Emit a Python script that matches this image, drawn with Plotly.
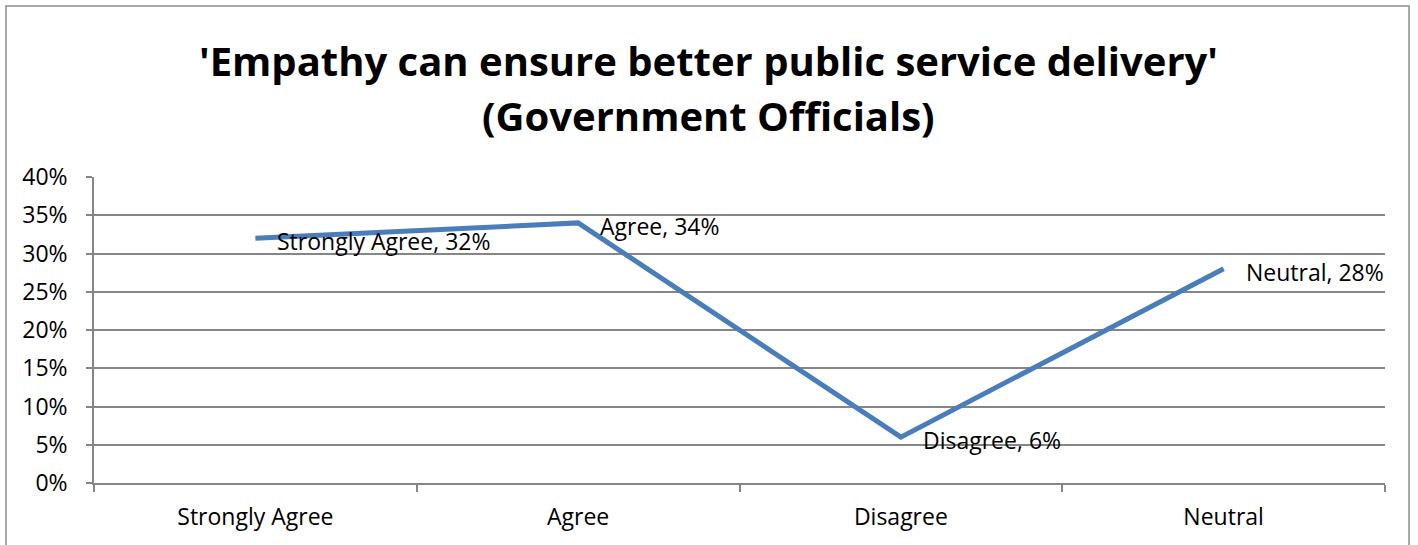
import plotly.graph_objects as go

categories = ["Strongly Agree", "Agree", "Disagree", "Neutral"]
values = [0.32, 0.34, 0.06, 0.28]
y_ticks = [0, 0.05, 0.10, 0.15, 0.20, 0.25, 0.30, 0.35, 0.40]
title_lines = ["'Empathy can ensure better public service delivery'", "(Government Officials)"]

FONT = "Open Sans"
W, H = 1418, 545
L, R, T, B = 94, 33, 177, 62
pw = W - L - R
ph = H - T - B

fig = go.Figure()
fig.add_trace(go.Scatter(
    x=categories, y=values, mode="lines",
    line=dict(color="#4A7EBB", width=5),
    hoverinfo="skip", showlegend=False,
))

for c, v in zip(categories, values):
    fig.add_annotation(
        x=c, y=v, text=f"{c}, {round(v*100)}%", showarrow=False,
        xanchor="left", yanchor="middle", xshift=20, yshift=-3,
        font=dict(family=FONT, size=23, color="#000000"),
    )

# title lines
for line, ypx in zip(title_lines, [60, 115]):
    fig.add_annotation(
        xref="paper", yref="paper",
        x=((205 + 1212) / 2 - L) / pw, y=(H - ypx - B) / ph,
        text=f"<b>{line}</b>", showarrow=False,
        xanchor="center", yanchor="middle",
        font=dict(family=FONT, size=40, color="#000000"),
    )

# outer chart frame
fig.add_shape(
    type="rect", xref="paper", yref="paper",
    x0=(6 - L) / pw, x1=(1409 - L) / pw,
    y0=(H - 560 - B) / ph, y1=(H - 6 - B) / ph,
    line=dict(color="#8C8C8C", width=1.5), fillcolor="rgba(0,0,0,0)", layer="below",
)

fig.update_layout(
    width=W, height=H,
    margin=dict(l=L, r=R, t=T, b=B),
    paper_bgcolor="white", plot_bgcolor="white",
    font=dict(family=FONT, size=23, color="#000000"),
    xaxis=dict(
        type="category", range=[-0.5, 3.5], tickson="boundaries",
        ticks="outside", ticklen=7, tickcolor="#868686", tickwidth=1.5,
        showline=True, linecolor="#868686", linewidth=1.5,
        showgrid=False, zeroline=False, fixedrange=True, ticklabelstandoff=13,
        tickfont=dict(family=FONT, size=23, color="#000000"),
    ),
    yaxis=dict(
        range=[0, 0.4], tickvals=y_ticks, tickformat=".0%",
        ticks="outside", ticklen=6, tickcolor="#868686", tickwidth=1.5,
        showline=True, linecolor="#868686", linewidth=1.5,
        showgrid=True, gridcolor="#868686", gridwidth=1.5,
        zeroline=False, fixedrange=True, ticklabelstandoff=14,
        tickfont=dict(family=FONT, size=23, color="#000000"),
    ),
)

fig.write_html("out.html")
